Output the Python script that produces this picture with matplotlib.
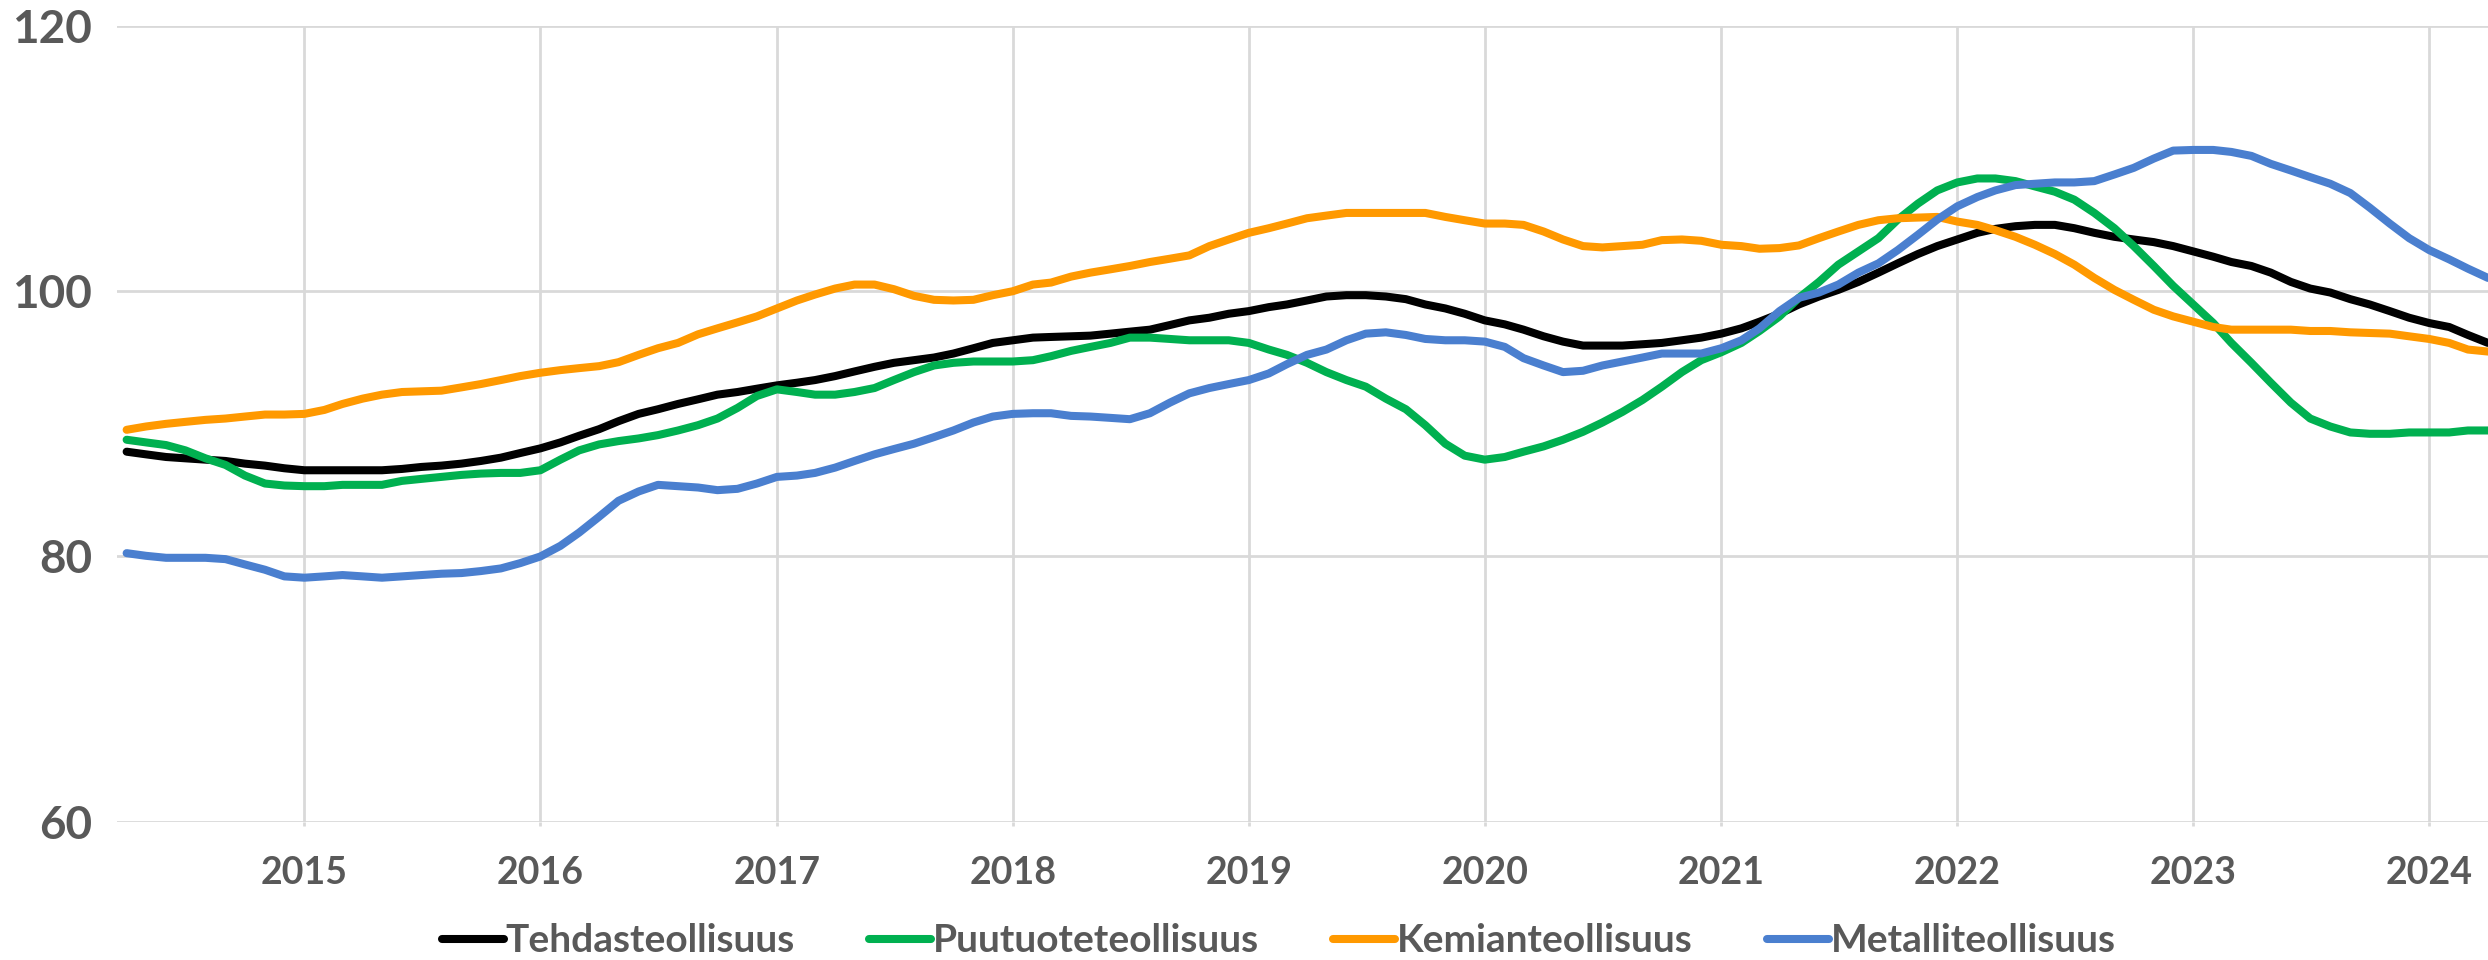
import matplotlib
matplotlib.use("Agg")
import matplotlib.pyplot as plt
import matplotlib.dates as mdates
import pandas as pd

# monthly index values, 2014-04 ... 2024-04
months = pd.date_range("2014-04-01", "2024-04-01", freq="MS")

tehdas = [
    87.9, 87.7, 87.5, 87.4, 87.3, 87.2, 87.0, 86.85, 86.65,
    86.5, 86.5, 86.5, 86.5, 86.5, 86.6, 86.75, 86.85, 87.0, 87.2, 87.45, 87.8,
    88.15, 88.6, 89.1, 89.6, 90.2, 90.75, 91.1, 91.5, 91.85, 92.2, 92.4, 92.65,
    92.9, 93.1, 93.3, 93.6, 93.95, 94.3, 94.6, 94.8, 95.0, 95.3, 95.7, 96.1,
    96.3, 96.5, 96.55, 96.6, 96.65, 96.8, 96.95, 97.1, 97.45, 97.8, 98.0, 98.3,
    98.5, 98.8, 99.0, 99.3, 99.6, 99.7, 99.7, 99.6, 99.4, 99.0, 98.7, 98.3,
    97.8, 97.5, 97.1, 96.6, 96.2, 95.9, 95.9, 95.9, 96.0, 96.1, 96.3, 96.5,
    96.8, 97.2, 97.7, 98.3, 99.0, 99.6, 100.1, 100.7, 101.4, 102.1, 102.8, 103.4,
    103.9, 104.4, 104.7, 104.9, 105.0, 105.0, 104.75, 104.4, 104.1, 103.9, 103.7, 103.4,
    103.0, 102.6, 102.2, 101.9, 101.4, 100.7, 100.2, 99.9, 99.4, 99.0, 98.5, 98.0,
    97.6, 97.3, 96.7, 96.1,
]

puutuote = [
    88.8, 88.6, 88.4, 88.0, 87.4, 86.9, 86.1, 85.5, 85.35,
    85.3, 85.3, 85.4, 85.4, 85.4, 85.7, 85.85, 86.0, 86.15, 86.25, 86.3, 86.3,
    86.5, 87.3, 88.0, 88.45, 88.7, 88.9, 89.15, 89.5, 89.9, 90.4, 91.2, 92.1,
    92.6, 92.4, 92.2, 92.2, 92.4, 92.7, 93.3, 93.9, 94.4, 94.6, 94.7, 94.7,
    94.7, 94.8, 95.1, 95.5, 95.8, 96.1, 96.5, 96.5, 96.4, 96.3, 96.3, 96.3,
    96.1, 95.6, 95.2, 94.6, 93.9, 93.3, 92.8, 91.9, 91.1, 89.9, 88.5, 87.6,
    87.3, 87.5, 87.9, 88.3, 88.8, 89.4, 90.1, 90.9, 91.8, 92.8, 93.9, 94.8,
    95.4, 96.1, 97.0, 98.1, 99.5, 100.7, 102.0, 103.0, 104.0, 105.4, 106.6, 107.6,
    108.2, 108.5, 108.5, 108.3, 107.9, 107.5, 106.9, 105.9, 104.75, 103.4, 101.9, 100.4,
    99.0, 97.6, 96.1, 94.6, 93.1, 91.6, 90.4, 89.8, 89.35, 89.25, 89.25, 89.35,
    89.35, 89.35, 89.5, 89.5,
]

kemia = [
    89.55, 89.8, 90.0, 90.15, 90.3, 90.4, 90.55, 90.7, 90.7,
    90.75, 91.05, 91.5, 91.9, 92.2, 92.4, 92.45, 92.5, 92.75, 93.0, 93.3, 93.6,
    93.85, 94.05, 94.2, 94.35, 94.65, 95.2, 95.7, 96.1, 96.75, 97.2, 97.65, 98.1,
    98.7, 99.3, 99.75, 100.2, 100.5, 100.5, 100.15, 99.65, 99.35, 99.3, 99.35, 99.7,
    100.0, 100.5, 100.65, 101.1, 101.4, 101.65, 101.9, 102.2, 102.45, 102.7, 103.4, 103.9,
    104.4, 104.75, 105.1, 105.5, 105.7, 105.9, 105.9, 105.9, 105.9, 105.9, 105.6, 105.35,
    105.1, 105.1, 105.0, 104.5, 103.9, 103.4, 103.3, 103.4, 103.5, 103.85, 103.9, 103.8,
    103.5, 103.4, 103.2, 103.25, 103.45, 104.0, 104.5, 105.0, 105.35, 105.5, 105.55, 105.6,
    105.25, 105.0, 104.6, 104.1, 103.5, 102.8, 102.0, 101.0, 100.1, 99.35, 98.6, 98.1,
    97.7, 97.3, 97.1, 97.1, 97.1, 97.1, 97.0, 97.0, 96.9, 96.85, 96.8, 96.6,
    96.4, 96.1, 95.6, 95.45,
]

metalli = [
    80.25, 80.05, 79.9, 79.9, 79.9, 79.8, 79.4, 79.0, 78.5,
    78.4, 78.5, 78.6, 78.5, 78.4, 78.5, 78.6, 78.7, 78.75, 78.9, 79.1, 79.5,
    80.0, 80.8, 81.8, 83.0, 84.2, 84.9, 85.4, 85.3, 85.2, 85.0, 85.1, 85.5,
    86.0, 86.1, 86.3, 86.7, 87.2, 87.7, 88.1, 88.5, 89.0, 89.5, 90.1, 90.55,
    90.75, 90.8, 90.8, 90.6, 90.55, 90.45, 90.35, 90.8, 91.6, 92.3, 92.7, 93.0,
    93.3, 93.8, 94.5, 95.2, 95.6, 96.3, 96.8, 96.9, 96.7, 96.4, 96.3, 96.3,
    96.2, 95.8, 94.95, 94.4, 93.9, 94.0, 94.4, 94.7, 95.0, 95.3, 95.3, 95.3,
    95.7, 96.3, 97.2, 98.5, 99.5, 99.9, 100.5, 101.4, 102.1, 103.1, 104.25, 105.4,
    106.4, 107.1, 107.6, 108.0, 108.1, 108.2, 108.2, 108.3, 108.8, 109.3, 110.0, 110.6,
    110.65, 110.65, 110.5, 110.2, 109.6, 109.1, 108.6, 108.1, 107.4, 106.3, 105.1, 104.0,
    103.1, 102.4, 101.7, 101.0,
]

series = [
    ("Tehdasteollisuus", tehdas, "#000000"),
    ("Puutuoteteollisuus", puutuote, "#00B050"),
    ("Kemianteollisuus", kemia, "#FF9900"),
    ("Metalliteollisuus", metalli, "#4A7FCF"),
]
year_ticks = pd.date_range("2015-01-01", "2024-01-01", freq="YS")
y_ticks = [60, 80, 100, 120]

plt.rcParams["font.family"] = ["Lato", "DejaVu Sans"]
plt.rcParams["font.weight"] = "bold"
grey = "#595959"

fig = plt.figure(figsize=(24.88, 9.6), dpi=100)
ax = fig.add_axes([0.047, 0.144, 0.953, 0.829])

for name, vals, col in series:
    ax.plot(months, vals, color=col, lw=5.8, label=name, solid_capstyle="round",
            solid_joinstyle="round")

ax.set_ylim(60, 120)
ax.set_yticks(y_ticks)
ax.set_xlim(pd.Timestamp("2014-03-17"), pd.Timestamp("2024-04-01"))
ax.set_xticks(year_ticks)
ax.xaxis.set_major_formatter(mdates.DateFormatter("%Y"))

ax.grid(True, color="#D9D9D9", lw=2)
ax.set_axisbelow(True)
for s in ax.spines.values():
    s.set_visible(False)
ax.tick_params(axis="y", length=0, pad=18, labelsize=33, labelcolor=grey)
ax.tick_params(axis="x", length=3, width=2, color="#D9D9D9", pad=22,
               labelsize=27, labelcolor=grey)
for lab in ax.get_xticklabels() + ax.get_yticklabels():
    lab.set_fontweight("bold")

leg = fig.legend(loc="center", bbox_to_anchor=(0.514, 0.02), ncol=4, frameon=False,
                 fontsize=28, handlelength=1.6, handletextpad=0.05, columnspacing=1.9)
for t in leg.get_texts():
    t.set_color(grey)
    t.set_fontweight("bold")

fig.savefig("out.png", dpi=100)
